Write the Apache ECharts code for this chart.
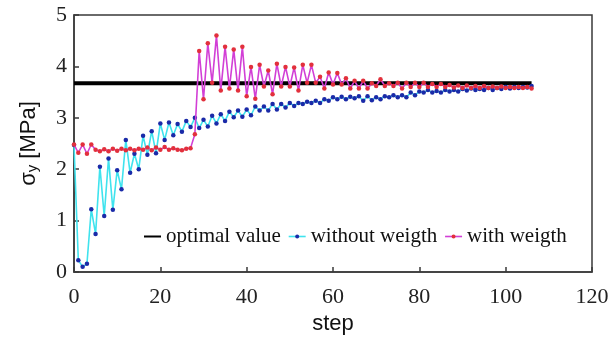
<!DOCTYPE html>
<html>
<head>
<meta charset="utf-8">
<script src="https://cdn.jsdelivr.net/npm/echarts@6/dist/echarts.min.js"></script>
<style>html,body{margin:0;padding:0;background:#fff}#c{width:614px;height:344px}</style>
</head>
<body>
<div id="c"></div>
<script>
// step indices 0..106
var steps = [];
for (var i = 0; i <= 106; i++) steps.push(i);

var optimalValue = 3.67;
var optimalStart = 0;
var optimalEnd = 106;

var withoutWeigth = [
2.47,0.23,0.10,0.16,1.22,0.74,2.05,1.09,2.21,1.21,
1.98,1.61,2.57,1.93,2.30,2.00,2.65,2.28,2.74,2.31,
2.89,2.57,2.91,2.66,2.88,2.73,2.94,2.82,3.00,2.80,
2.96,2.83,3.04,2.89,3.07,2.94,3.12,3.01,3.14,3.02,
3.16,3.05,3.22,3.14,3.22,3.14,3.27,3.16,3.27,3.20,
3.29,3.23,3.29,3.27,3.31,3.29,3.33,3.29,3.36,3.33,
3.40,3.36,3.41,3.36,3.41,3.38,3.42,3.33,3.42,3.34,
3.40,3.36,3.42,3.40,3.44,3.40,3.44,3.40,3.49,3.44,
3.51,3.49,3.54,3.49,3.52,3.49,3.54,3.51,3.54,3.51,
3.56,3.53,3.57,3.54,3.56,3.54,3.58,3.54,3.58,3.56,
3.60,3.57,3.60,3.58,3.60,3.59,3.62
];

var withWeigth = [
2.48,2.32,2.48,2.30,2.48,2.38,2.35,2.39,2.35,2.40,
2.36,2.40,2.37,2.40,2.37,2.40,2.38,2.42,2.37,2.42,
2.38,2.43,2.38,2.41,2.38,2.37,2.40,2.41,2.68,4.30,
3.36,4.45,3.68,4.60,3.53,4.38,3.57,4.33,3.53,4.38,
3.42,3.99,3.37,4.03,3.61,3.92,3.46,4.05,3.61,3.99,
3.61,3.98,3.53,4.03,3.68,4.03,3.68,3.80,3.57,3.88,
3.65,3.87,3.65,3.77,3.57,3.72,3.57,3.72,3.57,3.67,
3.62,3.75,3.62,3.67,3.62,3.68,3.57,3.68,3.60,3.68,
3.60,3.68,3.60,3.66,3.60,3.66,3.60,3.64,3.59,3.63,
3.58,3.63,3.58,3.62,3.58,3.62,3.58,3.61,3.58,3.61,
3.58,3.60,3.58,3.60,3.58,3.60,3.57
];

var seriesNames = ['optimal value', 'without weigth', 'with weigth'];
var xTicks = [0, 20, 40, 60, 80, 100, 120];
var yTicks = [0, 1, 2, 3, 4, 5];

function pairs(arr) { return arr.map(function (v, k) { return [steps[k], v]; }); }

var chart = echarts.init(document.getElementById('c'), null, {renderer: 'canvas'});
var axisColor = '#3a3a3a';
chart.setOption({
  animation: false,
  backgroundColor: '#fff',
  grid: {left: 74, right: 22, top: 15, bottom: 72, show: true, borderColor: axisColor, borderWidth: 1.5, backgroundColor: 'transparent'},
  legend: {
    left: 138, top: 221,
    itemWidth: 17, itemHeight: 5, itemGap: 7,
    textStyle: {fontFamily: 'Liberation Serif', fontSize: 21, color: '#111'},
    data: [
      {name: seriesNames[0], itemStyle: {color: 'rgba(0,0,0,0)', borderWidth: 0}, lineStyle: {color: '#000', width: 2}},
      {name: seriesNames[1], lineStyle: {width: 1.6}},
      {name: seriesNames[2], lineStyle: {width: 1.6}}
    ]
  },
  xAxis: {
    type: 'value', min: xTicks[0], max: xTicks[xTicks.length - 1], interval: 20,
    name: 'step', nameLocation: 'middle', nameGap: 41,
    nameTextStyle: {fontFamily: 'Liberation Sans', fontSize: 22, color: '#111'},
    axisLine: {lineStyle: {color: axisColor, width: 1.5}},
    axisTick: {inside: true, length: 5, lineStyle: {color: axisColor, width: 1.5}},
    axisLabel: {fontFamily: 'Liberation Serif', fontSize: 22, color: '#222', margin: 14},
    splitLine: {show: false}
  },
  yAxis: {
    type: 'value', min: yTicks[0], max: yTicks[yTicks.length - 1], interval: 1,
    name: 'σ{sub|y} [MPa]', nameLocation: 'middle', nameGap: 34, nameRotate: 90,
    nameTextStyle: {fontFamily: 'Liberation Sans', fontSize: 22, color: '#111',
      rich: {sub: {fontFamily: 'Liberation Sans', fontSize: 15, verticalAlign: 'bottom', padding: [8, 0, 0, 0], color: '#111'}}},
    axisLine: {lineStyle: {color: axisColor, width: 1.5}},
    axisTick: {inside: true, length: 5, lineStyle: {color: axisColor, width: 1.5}},
    axisLabel: {fontFamily: 'Liberation Serif', fontSize: 22, color: '#222', margin: 7},
    splitLine: {show: false}
  },
  series: [
    {
      name: seriesNames[0], type: 'line', showSymbol: false, symbol: 'none',
      data: [[optimalStart, optimalValue], [optimalEnd, optimalValue]],
      lineStyle: {color: '#000', width: 4}, itemStyle: {color: '#000'}, z: 2
    },
    {
      name: seriesNames[1], type: 'line', symbol: 'circle', symbolSize: 4.5,
      data: pairs(withoutWeigth),
      lineStyle: {color: '#3fe3ee', width: 1.6},
      itemStyle: {color: '#1a2aa8', borderWidth: 0}, z: 3
    },
    {
      name: seriesNames[2], type: 'line', symbol: 'circle', symbolSize: 4.5,
      data: pairs(withWeigth),
      lineStyle: {color: '#d23fd6', width: 1.6},
      itemStyle: {color: '#e2303c', borderWidth: 0}, z: 4
    }
  ]
});
</script>
</body>
</html>
